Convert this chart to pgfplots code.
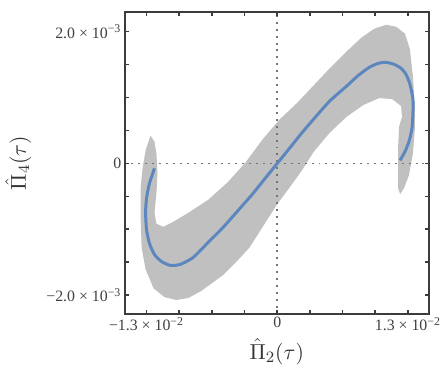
\documentclass[border=0pt]{standalone}
\usepackage{fontspec}
\setmainfont{Liberation Serif}
\usepackage{pgfplots}
\pgfplotsset{compat=1.18}
\definecolor{bandgray}{RGB}{192,192,192}
\definecolor{curveblue}{RGB}{92,135,190}
\definecolor{framegray}{RGB}{60,60,60}
\begin{document}
\begin{tikzpicture}
\begin{axis}[
  name=ax,
  scale only axis,
  width=153.5pt, height=152.5pt,
  xmin=-0.015167, xmax=0.015068,
  ymin=-0.0022857, ymax=0.0023008,
  scaled ticks=false,
  axis line style={framegray, line width=1pt},
  tick style={framegray, line width=0.8pt},
  major tick length=2pt,
  tick align=inside,
  xtick={-0.013,-0.00975,-0.0065,-0.00325,0,0.00325,0.0065,0.00975,0.013},
  xticklabels={−1.3 × 10\textsuperscript{−2},,,,0,,,,1.3 × 10\textsuperscript{−2}},
  ytick={-0.002,-0.0015,-0.001,-0.0005,0,0.0005,0.001,0.0015,0.002},
  yticklabels={−2.0 × 10\textsuperscript{−3},,,,0,,,,2.0 × 10\textsuperscript{−3}},
  ticklabel style={font=\fontsize{8}{9}\selectfont, text=black!75, inner sep=1.5pt},
  xlabel={$\hat{\Pi}_2(\tau)$},
  ylabel={$\hat{\Pi}_4(\tau)$},
  label style={font=\fontsize{11}{12}\selectfont, text=black!80, inner sep=0.5pt},
  xlabel style={at={(axis description cs:0.5,-0.125)}, anchor=center},
  ylabel style={at={(axis description cs:-0.35,0.5)}, anchor=center, rotate=0},
  axis on top,
]
% uncertainty band
\addplot[fill=bandgray, draw=none] coordinates {
(-0.012606,0.000421) (-0.013098,0.000195) (-0.013394,-0.000075) (-0.013591,-0.000376)
(-0.013591,-0.000827) (-0.013492,-0.001278) (-0.013098,-0.001609) (-0.012311,-0.001895)
(-0.011227,-0.002030) (-0.010045,-0.002075) (-0.008864,-0.002045) (-0.007583,-0.001940)
(-0.005417,-0.001699) (-0.003939,-0.001474) (-0.002758,-0.001278) (-0.001379,-0.000947)
(0,-0.000617) (0.001182,-0.000376) (0.002462,-0.000105) (0.003644,0.000180)
(0.005220,0.000466) (0.006894,0.000707) (0.008568,0.000887) (0.010144,0.000992)
(0.011424,0.000977) (0.012311,0.000872) (0.012409,0.000707) (0.012114,0.000556)
(0.012015,0.000226) (0.012015,-0.000150) (0.012015,-0.000376) (0.012212,-0.000466)
(0.012606,-0.000376) (0.013098,-0.000180) (0.013492,0.000150) (0.013689,0.000526)
(0.013689,0.000827) (0.013492,0.001323) (0.013197,0.001729) (0.012705,0.001970)
(0.011818,0.002075) (0.010833,0.002105) (0.009652,0.002045) (0.008371,0.001910)
(0.006894,0.001699) (0.005220,0.001444) (0.003644,0.001188) (0.001970,0.000917)
(0.000197,0.000662) (-0.001477,0.000361) (-0.003152,0.000015) (-0.004924,-0.000286)
(-0.006894,-0.000556) (-0.008864,-0.000752) (-0.010341,-0.000887) (-0.011326,-0.000962)
(-0.012015,-0.000917) (-0.012212,-0.000752) (-0.012015,-0.000451) (-0.011917,-0.000150)
(-0.012015,0.000150) (-0.012212,0.000331)
} -- cycle;
% zero lines
\addplot[black!55, line width=0.8pt, dash pattern=on 1pt off 2.5pt] coordinates {(0,-0.0023) (0,0.0023)};
\addplot[black!55, line width=0.8pt, dash pattern=on 1pt off 2.5pt] coordinates {(-0.0152,0) (0.0151,0)};
% mean curve
\addplot[curveblue, line width=1.5pt, smooth, tension=0.4] coordinates {
(-0.012212,-0.000075) (-0.012705,-0.000301) (-0.013000,-0.000526) (-0.013098,-0.000752)
(-0.013000,-0.001008) (-0.012705,-0.001218) (-0.012212,-0.001383) (-0.011523,-0.001489)
(-0.010636,-0.001549) (-0.009652,-0.001534) (-0.008371,-0.001429) (-0.006894,-0.001203)
(-0.005417,-0.000977) (-0.003939,-0.000722) (-0.002462,-0.000466) (-0.001280,-0.000241)
(0,0) (0.001280,0.000241) (0.002462,0.000466) (0.003644,0.000677)
(0.005220,0.000947) (0.006894,0.001173) (0.008076,0.001338) (0.009159,0.001459)
(0.010045,0.001519) (0.010833,0.001534) (0.011621,0.001504) (0.012311,0.001444)
(0.012803,0.001353) (0.013197,0.001203) (0.013492,0.000977) (0.013492,0.000752)
(0.013394,0.000526) (0.013098,0.000331) (0.012705,0.000180) (0.012212,0.000045)
};
\end{axis}
\path ([yshift=6pt]ax.north east) ([xshift=-63pt,yshift=-27.5pt]ax.south west);
\end{tikzpicture}
\end{document}
